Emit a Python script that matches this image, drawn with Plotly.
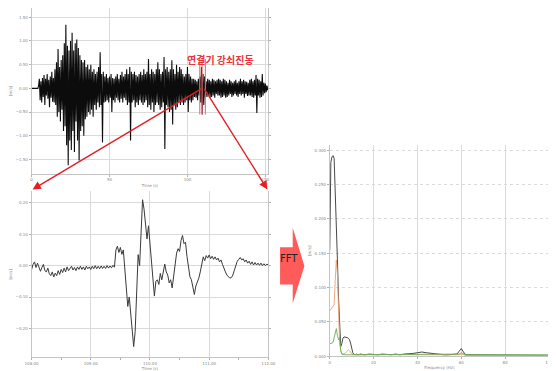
import plotly.graph_objects as go

# ---------------- data ----------------
# top panel: full record, 0.5 s spacing
top_t0 = 0.0
top_dt = 0.5
top_vals = [
    0, 0, 0, 0, 0, 0, 0, 0, 0, 0.05,
    0.2, -0.25, 0.15, -0.3, 0.22, -0.18, 0.28, -0.35, 0.2, -0.15,
    0.3, -0.22, 0.18, -0.4, 0.25, -0.2, 0.35, -0.28, 0.22, -0.3,
    0.4, -0.35, 0.55, -0.6, 0.83, -0.5, 0.45, -0.7, 0.6, -0.45,
    0.7, -0.9, 0.95, -0.8, 1.34, -1.2, 0.9, -1.62, 0.8, -1.1,
    1.0, -1.3, 1.17, -0.9, 0.8, -1.34, 0.95, -0.7, 1.03, -1.1,
    0.85, -1.52, 0.7, -0.9, 0.6, -0.8, 0.55, -1.0, 0.6, -0.65,
    0.45, -0.6, 0.5, -0.5, 0.4, -0.55, 0.5, -0.45, 0.35, -0.6,
    0.4, -0.35, 0.3, -0.45, 0.35, -0.3, 0.45, -0.4, 0.76, -0.35,
    0.3, -1.14, 0.35, -0.3, 0.25, -0.28, 0.3, -0.25, 0.22, -0.3,
    0.25, -0.2, 0.3, -0.5, 0.22, -0.25, 0.2, -0.3, 0.25, -0.2,
    0.3, -0.25, 0.2, -0.3, 0.28, -0.22, 0.35, -0.3, 0.25, -0.2,
    0.3, -0.25, 0.4, -0.35, 0.3, -0.3, 0.45, -1.1, 0.35, -0.3,
    0.3, -0.25, 0.35, -0.4, 0.28, -0.3, 0.25, -0.35, 0.3, -0.25,
    0.35, -0.3, 0.28, -0.35, 0.4, -0.3, 0.3, -0.25, 0.35, -0.4,
    0.62, -0.35, 0.3, -0.45, 0.4, -0.3, 0.35, -0.5, 0.3, -0.35,
    0.4, -0.3, 0.55, -0.35, 0.4, -0.45, 0.3, -0.4, 0.35, -0.3,
    0.66, -1.28, 0.4, -0.35, 0.45, -0.4, 0.35, -0.5, 0.4, -0.45,
    0.59, -0.76, 0.4, -0.35, 0.3, -0.45, 0.5, -0.4, 0.35, -0.3,
    0.45, -0.35, 0.4, -0.3, 0.3, -0.35, 0.25, -0.3, 0.3, -0.25,
    0.45, -0.5, 0.3, -0.25, 0.25, -0.3, 0.2, -0.25, 0.2, -0.18,
    0.18, -0.2, 0.15, -0.25, 0.2, -0.15, 0.25, -0.3, 0.45, -0.55,
    0.3, -0.35, 0.25, -0.2, 0.15, -0.18, 0.2, -0.15, 0.18, -0.2,
    0.15, -0.18, 0.2, -0.15, 0.18, -0.2, 0.15, -0.12, 0.18, -0.15,
    0.2, -0.15, 0.18, -0.2, 0.15, -0.18, 0.2, -0.15, 0.18, -0.2,
    0.15, -0.18, 0.12, -0.15, 0.18, -0.12, 0.15, -0.18, 0.12, -0.15,
    0.15, -0.12, 0.18, -0.15, 0.12, -0.18, 0.15, -0.12, 0.2, -0.15,
    0.15, -0.12, 0.18, -0.2, 0.15, -0.12, 0.14, -0.16, 0.12, -0.15,
    0.18, -0.15, 0.2, -0.18, 0.15, -0.2, 0.18, -0.15, 0.28, -0.52,
    0.2, -0.15, 0.18, -0.2, 0.15, -0.18, 0.3, -0.15, 0.12, -0.1,
    0.1, -0.08, 0.06, -0.04, 0.02, 0,
]
top_time = [top_t0 + i * top_dt for i in range(len(top_vals))]
event_times = [107.9, 109.4, 111.5]
event_span = [-0.55, 0.62]

# bottom panel: zoomed window 108-112 s, 0.025 s spacing
zoom_t0 = 108.0
zoom_dt = 0.025
zoom_vals = [
    -0.013, 0.004, 0.012, -0.006, 0.008, -0.004, -0.018, -0.006, 0.004, -0.016,
    -0.02, -0.008, -0.026, -0.032, -0.02, -0.036, -0.024, -0.032, -0.016, -0.028,
    -0.012, -0.022, -0.008, -0.02, -0.004, -0.016, -0.01, -0.002, -0.014, -0.006,
    -0.016, -0.004, -0.012, -0.002, -0.012, -0.004, -0.014, -0.002, -0.01, -0.004,
    -0.012, -0.002, -0.01, 0.0, -0.01, -0.002, -0.01, -0.001, -0.009, -0.002,
    -0.009, 0.0, -0.008, -0.001, -0.007, 0.001, -0.005,
    0.05, 0.062, 0.042, 0.058, 0.036, 0.05,
    -0.02, -0.08, -0.13, -0.1, -0.15, -0.2, -0.258, -0.21, -0.05, 0.035,
    0.0, 0.12, 0.21, 0.18, 0.13, 0.085, 0.127, 0.075, 0.02, -0.04,
    -0.097, -0.05, -0.045, -0.06, -0.025, -0.045, -0.015, 0.005, -0.02, -0.03,
    -0.055, -0.045, -0.071, -0.035, 0.01, 0.04, 0.054, 0.045, 0.08, 0.096,
    0.07, 0.075, 0.03, -0.01, -0.035, -0.045, -0.075, -0.092, -0.065, -0.055,
    -0.04, -0.02, 0.01, 0.028, 0.016, 0.032, 0.024, 0.034, 0.022, 0.03,
    0.02, 0.028, 0.018, 0.024, 0.012, 0.018, 0.004, -0.01, -0.02, -0.03,
    -0.035, -0.04, -0.038, -0.03, -0.015, 0.0, 0.014, 0.02, 0.026, 0.018,
    0.022, 0.012, 0.018, 0.008, 0.014, 0.004, 0.012, 0.002, 0.01, 0.002,
    0.008, 0.001, 0.008, 0.0, 0.006, 0.0, 0.005, 0.002,
]
zoom_time = [zoom_t0 + i * zoom_dt for i in range(len(zoom_vals))]

# FFT panel
freq = [0, 0.5, 1, 1.5, 2, 2.5, 3, 3.5, 4, 4.5, 5, 5.5, 6, 6.5, 7, 7.5, 8, 8.5, 9, 9.5,
        10, 10.5, 11, 11.5, 12, 13, 14, 15,
        16, 18, 20, 22, 24, 26, 28, 30, 32, 34, 36, 38, 40, 42, 44, 46, 48, 50, 52, 54, 56, 58,
        59, 60, 61, 62,
        64, 66, 68, 70, 72, 74, 76, 78, 80, 82, 84, 86, 88, 90, 92, 94, 96, 98, 100]
fft_black = [0.154, 0.282, 0.29, 0.292, 0.288, 0.245, 0.195, 0.14, 0.085, 0.035, 0.014, 0.018, 0.026, 0.028, 0.028, 0.027, 0.027, 0.026, 0.024, 0.019,
             0.011, 0.005, 0.003, 0.002, 0.003, 0.002, 0.003, 0.002,
             0.002, 0.003, 0.002, 0.002, 0.003, 0.002, 0.002, 0.003, 0.002, 0.003, 0.003, 0.004, 0.005, 0.006, 0.005, 0.004, 0.003, 0.002, 0.002, 0.002, 0.002, 0.003,
             0.007, 0.011, 0.006, 0.002,
             0.002, 0.002, 0.001, 0.002, 0.001, 0.002, 0.001, 0.001, 0.001, 0.001, 0.001, 0.001, 0.001, 0.001, 0.001, 0.001, 0.001, 0.001, 0.001]
fft_orange = [0.066, 0.068, 0.07, 0.072, 0.075, 0.11, 0.14, 0.12, 0.06, 0.02, 0.008, 0.004, 0.003, 0.003, 0.004, 0.006, 0.008, 0.009, 0.008, 0.006,
              0.003, 0.002, 0.002, 0.002, 0.001, 0.001, 0.001, 0.001,
              0.001, 0.001, 0.001, 0.001, 0.001, 0.001, 0.001, 0.001, 0.001, 0.001, 0.002, 0.002, 0.002, 0.002, 0.002, 0.002, 0.001, 0.001, 0.001, 0.001, 0.001, 0.001,
              0.002, 0.003, 0.002, 0.001,
              0.001, 0.001, 0.001, 0.001, 0.001, 0.001, 0.001, 0.001, 0.001, 0.001, 0.001, 0.001, 0.001, 0.001, 0.001, 0.001, 0.001, 0.001, 0.001]
fft_green = [0.018, 0.018, 0.019, 0.02, 0.028, 0.036, 0.04, 0.03, 0.024, 0.027, 0.008, 0.003, 0.002, 0.002, 0.002, 0.002, 0.002, 0.002, 0.002, 0.002,
             0.002, 0.002, 0.002, 0.002, 0.002, 0.002, 0.002, 0.002,
             0.002, 0.002, 0.002, 0.002, 0.002, 0.002, 0.002, 0.002, 0.002, 0.002, 0.002, 0.003, 0.003, 0.003, 0.003, 0.003, 0.002, 0.002, 0.002, 0.002, 0.002, 0.002,
             0.003, 0.005, 0.003, 0.002,
             0.002, 0.002, 0.002, 0.002, 0.002, 0.002, 0.002, 0.002, 0.002, 0.002, 0.002, 0.002, 0.002, 0.002, 0.002, 0.002, 0.002, 0.002, 0.002]

label_text = "연결기 강쇠진동"

# page body has an 8px default margin: the figure is sized to fill the rest
OFF = 8
W, H = 556 - OFF, 371 - OFF


def fx(x):
    return (x - OFF) / W


def fy(y):
    return 1 - (y - OFF) / H


fig = go.Figure()
fig.add_trace(go.Scatter(x=top_time, y=top_vals, mode="lines", xaxis="x", yaxis="y",
                         line=dict(color="#0c0c0c", width=1.1), hoverinfo="skip"))
fig.add_trace(go.Scatter(x=zoom_time, y=zoom_vals, mode="lines", xaxis="x2", yaxis="y2",
                         line=dict(color="#3a3a3a", width=1.0), hoverinfo="skip"))
fig.add_trace(go.Scatter(x=freq, y=fft_black, mode="lines", xaxis="x3", yaxis="y3",
                         line=dict(color="#333333", width=0.9)))
fig.add_trace(go.Scatter(x=freq, y=fft_orange, mode="lines", xaxis="x3", yaxis="y3",
                         line=dict(color="#e9a06c", width=0.9)))
fig.add_trace(go.Scatter(x=freq, y=fft_green, mode="lines", xaxis="x3", yaxis="y3",
                         line=dict(color="#6aae55", width=0.9)))

tickfont = dict(size=4, color="#888888", family="DejaVu Sans")
titlefont = dict(size=4, color="#888888", family="DejaVu Sans")
common = dict(showgrid=True, gridcolor="#dadada", gridwidth=0.8, zeroline=False,
              showline=True, linecolor="#c4c4c4", linewidth=0.8,
              ticks="outside", ticklen=2, tickcolor="#b0b0b0", tickfont=tickfont)

fig.update_layout(
    width=W, height=H, margin=dict(l=0, r=0, t=0, b=0),
    paper_bgcolor="white", plot_bgcolor="white", showlegend=False,
    xaxis=dict(domain=[fx(25), fx(268)], range=[0, 151.9], anchor="y",
               tickvals=[0, 50, 100, 150], title=dict(text="Time (s)", font=titlefont, standoff=2), **common),
    yaxis=dict(domain=[fy(177), fy(8)], range=[-1.80, 1.694], anchor="x", mirror="ticks",
               tickvals=[-1.5, -1.0, -0.5, 0, 0.5, 1.0, 1.5], tickformat=".2f",
               title=dict(text="[m/s]", font=titlefont, standoff=3), **common),
    xaxis2=dict(domain=[fx(25), fx(268)], range=[108, 112], anchor="y2",
                tickvals=[108, 109, 110, 111, 112], tickformat=".2f",
                minor=dict(ticks="outside", ticklen=1.5, tickcolor="#b0b0b0", dtick=0.5, showgrid=False),
                title=dict(text="Time (s)", font=titlefont, standoff=2), **common),
    yaxis2=dict(domain=[fy(364), fy(195)], range=[-0.2916, 0.2366], anchor="x2", mirror="ticks",
                tickvals=[-0.2, -0.1, 0, 0.1, 0.2], tickformat=".2f",
                title=dict(text="[m/s]", font=titlefont, standoff=3), **common),
    xaxis3=dict(domain=[fx(331), 1.0], range=[0, 100], anchor="y3",
                tickvals=[0, 20, 40, 60, 80, 100],
                title=dict(text="Frequency (Hz)", font=titlefont, standoff=2), **common),
    yaxis3=dict(domain=[fy(363), fy(148)], range=[0, 0.307], anchor="x3",
                tickvals=[0, 0.05, 0.1, 0.15, 0.2, 0.25, 0.3], tickformat=".3f", griddash="dot",
                title=dict(text="[m/s]", font=titlefont, standoff=3), **common),
)

# red event markers on the full record
for t in event_times:
    fig.add_shape(type="line", xref="x", yref="y", x0=t, x1=t, y0=event_span[0], y1=event_span[1],
                  line=dict(color="#ec6f78", width=1.1))

# label
fig.add_annotation(x=fx(219), y=fy(51), xref="paper", yref="paper", text="<b>" + label_text + "</b>",
                   showarrow=False, font=dict(size=10, color="#e8343c", family="Noto Sans CJK KR"))

# red zoom arrows
for head, tail in [((26, 193), (197, 91)), ((267, 193), (203, 91))]:
    fig.add_annotation(x=fx(head[0]), y=fy(head[1]), xref="paper", yref="paper", text="", showarrow=True,
                       ax=tail[0] - head[0], ay=tail[1] - head[1], axref="pixel", ayref="pixel",
                       arrowhead=2, arrowsize=1.2, arrowwidth=1.4, arrowcolor="#e31e24")

# FFT block arrow
pts = [(280, 252), (293, 252), (293, 232), (305, 271), (293, 309), (293, 290), (280, 290)]
path = "M " + " L ".join(f"{fx(x)},{fy(y)}" for x, y in pts) + " Z"
fig.add_shape(type="path", xref="paper", yref="paper", path=path,
              fillcolor="#ff5b5b", line=dict(width=0))
fig.add_annotation(x=fx(289), y=fy(271), xref="paper", yref="paper", text="FFT", showarrow=False,
                   font=dict(size=10, color="#222222", family="DejaVu Sans"))

fig.write_html("out.html")
